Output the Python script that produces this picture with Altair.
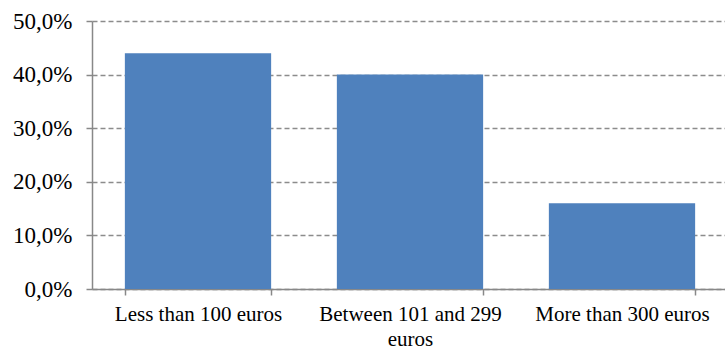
import altair as alt
import pandas as pd

categories = ["Less than 100 euros", "Between 101 and 299 euros", "More than 300 euros"]
values = [0.44, 0.40, 0.16]
y_ticks = [0.0, 0.1, 0.2, 0.3, 0.4, 0.5]

df = pd.DataFrame({"category": categories, "value": values})

FONT = "Liberation Serif"

chart = alt.Chart(df).mark_bar(color="#4F81BD").encode(
    x=alt.X(
        "category:N",
        sort=categories,
        title=None,
        scale=alt.Scale(paddingInner=0.31, paddingOuter=0.155, range=[0, 636]),
        axis=alt.Axis(
            labelAngle=0,
            labelFont=FONT,
            labelFontSize=21,
            labelColor="black",
            labelPadding=8,
            labelLineHeight=25,
            labelBaseline="top",
            labelLimit=300,
            domainColor="#888888",
            domainWidth=1.5,
            tickColor="#888888",
            tickSize=6,
            tickWidth=1.5,
            tickBand="extent",
            labelExpr="datum.value == 'Between 101 and 299 euros' ? ['Between 101 and 299', 'euros'] : datum.value",
        ),
    ),
    y=alt.Y(
        "value:Q",
        title=None,
        scale=alt.Scale(domain=[0, 0.5], nice=False),
        axis=alt.Axis(
            values=y_ticks,
            labelExpr="replace(format(datum.value, '.1%'), '.', ',')",
            labelFont=FONT,
            labelFontSize=23,
            labelColor="black",
            labelPadding=14,
            domainColor="#888888",
            domainWidth=1.5,
            tickColor="#888888",
            tickSize=6,
            tickWidth=1.5,
            grid=True,
            gridColor="#8c8c8c",
            gridDash=[5, 3],
            gridWidth=1.3,
        ),
    ),
).properties(
    width=632,
    height=268,
    autosize=alt.AutoSizeParams(type="none"),
    padding={"left": 92, "top": 21, "right": 1, "bottom": 60},
).configure_view(stroke=None).configure_axisX(grid=False)

chart.save("out.html", embed_options={"renderer": "svg", "actions": False})
